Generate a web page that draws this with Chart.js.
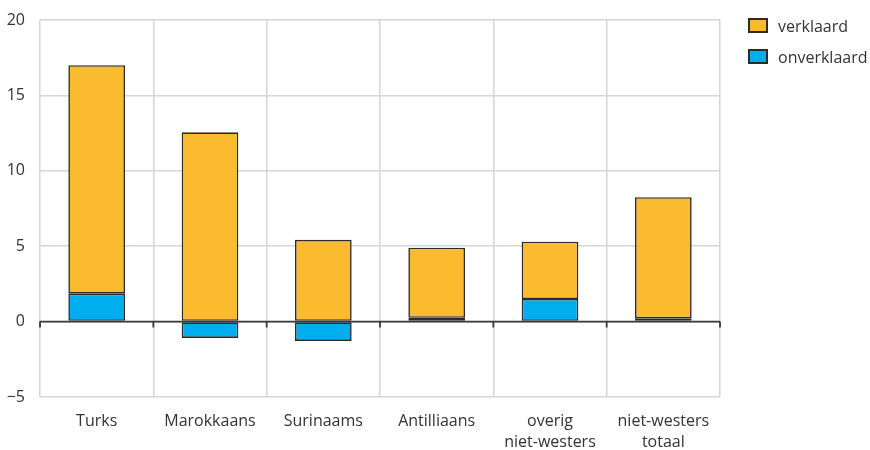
<!DOCTYPE html>
<html>
<head>
<meta charset="utf-8">
<script src="https://cdn.jsdelivr.net/npm/chart.js@4.4.0/dist/chart.umd.min.js"></script>
<style>
  html, body { margin: 0; padding: 0; background: #fff; }
  #wrap { width: 870px; height: 450px; position: relative; }
  #legend { position: absolute; left: 748px; top: 10px; font-family: 'Open Sans', 'Noto Sans', sans-serif; font-size: 16px; color: #333; }
  #legend div { height: 31px; display: flex; align-items: center; }
  #legend span.box { width: 16px; height: 11px; border: 2px solid #2b2b2b; margin-right: 10px; display: inline-block; }
</style>
</head>
<body>
<div id="wrap">
  <canvas id="loonkloof"></canvas>
  <div id="legend"></div>
</div>
<script>
const categories = ["Turks", "Marokkaans", "Surinaams", "Antilliaans", ["overig", "niet-westers"], ["niet-westers", "totaal"]];
const verklaard = [15.15, 12.55, 5.42, 4.65, 3.8, 8.03];
const onverklaard = [1.85, -1.08, -1.28, 0.25, 1.5, 0.22];
const yTicks = [-5, 0, 5, 10, 15, 20];

const textColor = "#333333";
const fontFamily = "'Open Sans', 'Noto Sans', sans-serif";
const colVerklaard = "#fbbb2e";
const colOnverklaard = "#00aeef";

// dark zero line with small tick marks under it, like the original
const zeroAxis = {
    id: "zeroAxis",
    afterDatasetsDraw(chart) {
        const {ctx, chartArea, scales} = chart;
        const y0 = scales.y.getPixelForValue(0);
        ctx.save();
        ctx.strokeStyle = "#3a3a3a";
        ctx.lineWidth = 1.8;
        ctx.beginPath();
        ctx.moveTo(chartArea.left, y0);
        ctx.lineTo(chartArea.right, y0);
        const n = categories.length;
        for (let i = 0; i <= n; i++) {
            const x = chartArea.left + (chartArea.right - chartArea.left) * i / n;
            ctx.moveTo(x, y0);
            ctx.lineTo(x, y0 + 6);
        }
        ctx.stroke();
        ctx.restore();
    }
};

const ctx = document.getElementById("loonkloof");
const chart = new Chart(ctx, {
    type: "bar",
    data: {
        labels: categories,
        datasets: [{
            label: "onverklaard",
            data: onverklaard,
            backgroundColor: colOnverklaard,
            borderColor: "#2b2b2b",
            borderWidth: 1.6,
            borderSkipped: false
        }, {
            label: "verklaard",
            data: verklaard,
            backgroundColor: colVerklaard,
            borderColor: "#2b2b2b",
            borderWidth: 1.6,
            borderSkipped: false
        }]
    },
    options: {
        responsive: true,
        maintainAspectRatio: false,
        animation: false,
        datasets: {
            bar: {barPercentage: 0.5, categoryPercentage: 1.0}
        },
        layout: {padding: {top: 0, left: 0, right: 150, bottom: 0}},
        plugins: {
            tooltip: {enabled: false},
            legend: {display: false}
        },
        scales: {
            x: {
                stacked: true,
                border: {display: false},
                grid: {color: "#d6d6d6", lineWidth: 1.5, offset: true, drawTicks: false},
                afterFit(scale) { scale.height = 53; },
                ticks: {
                    color: textColor,
                    padding: 14,
                    font: {family: fontFamily, size: 16, lineHeight: 1.3}
                }
            },
            y: {
                stacked: true,
                min: -5,
                max: 20,
                afterBuildTicks(scale) {
                    scale.ticks = yTicks.map(v => ({value: v}));
                },
                afterFit(scale) {
                    scale.width = 40;
                    scale.paddingTop = 20;
                },
                border: {display: false},
                grid: {color: "#d6d6d6", lineWidth: 1.5, drawTicks: false},
                ticks: {
                    color: textColor,
                    padding: 15,
                    font: {family: fontFamily, size: 16},
                    callback: v => String(v).replace("-", "\u2212")
                }
            }
        }
    },
    plugins: [zeroAxis]
});

// legend: verklaard on top, like the original
const legend = document.getElementById("legend");
[["verklaard", colVerklaard], ["onverklaard", colOnverklaard]].forEach(([name, col]) => {
    const row = document.createElement("div");
    const box = document.createElement("span");
    box.className = "box";
    box.style.background = col;
    row.appendChild(box);
    row.appendChild(document.createTextNode(name));
    legend.appendChild(row);
});
</script>
</body>
</html>
